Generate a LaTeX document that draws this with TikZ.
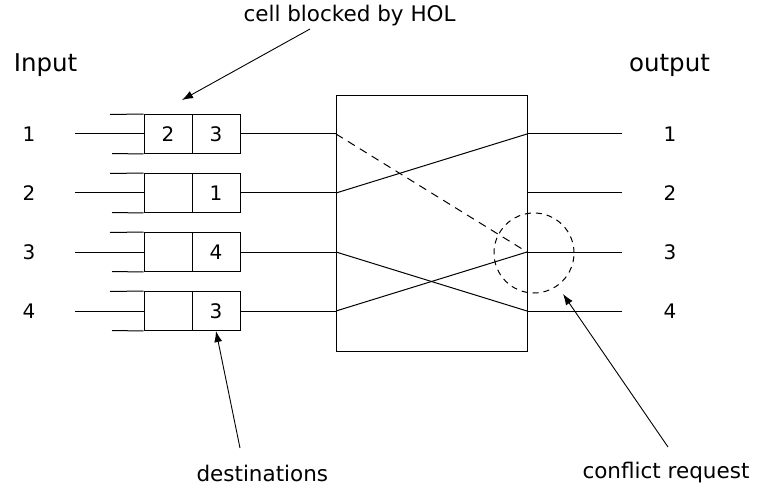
\documentclass[tikz,border=0pt]{standalone}
\usepackage{fontspec}
\setmainfont{DejaVu Sans}
\usetikzlibrary{arrows.meta}
\begin{document}
\begin{tikzpicture}[x=1pt,y=-1pt,line width=1pt,
  cell/.style={draw,minimum width=48pt,minimum height=39pt,inner sep=0pt,font=\fontsize{20}{24}\selectfont},
  num/.style={inner sep=0pt,font=\fontsize{20}{24}\selectfont},
  lbl/.style={inner sep=0pt,font=\fontsize{21.5}{25}\selectfont},
  big/.style={inner sep=0pt,font=\fontsize{24.5}{28}\selectfont},
  arr/.style={line width=0.9pt,-{Latex[length=11pt,width=8pt]}},
  dsh/.style={dash pattern=on 8pt off 6pt}]
\useasboundingbox (0,0) rectangle (759,486);
% switch fabric
\node[draw,anchor=north west,minimum width=191pt,minimum height=256pt,inner sep=0pt] (sw) at (336,95) {};
% titles
\node[big,anchor=base] (tin) at (45.5,72) {Input};
\node[big,anchor=base] (tout) at (669.5,72) {output};
% queues
\foreach \i/\y/\a/\b in {1/134/2/3,2/193//1,3/252//4,4/311//3}{
  \node[cell] (c\i a) at (168,\y) {\a};
  \node[cell] (c\i b) at (216,\y) {\b};
  \coordinate (qt\i) at (110,\y-19.5);
  \coordinate (qb\i) at (112,\y+19.5);
  \draw (qt\i) -- (c\i a.north west);
  \draw (qb\i) -- (c\i a.south west);
  \coordinate (il\i) at (75,\y);
  \draw (il\i) -- (c\i a.west);
  \node[num] (n\i) at (29,\y) {\i};
  \coordinate (in\i) at (336,\y);
  \coordinate (out\i) at (527,\y);
  \draw (c\i b.east) -- (in\i);
  \coordinate (ol\i) at (622,\y);
  \draw (out\i) -- (ol\i);
  \node[num] (m\i) at (670,\y) {\i};
}
% internal connections
\draw[dsh] (in1) -- (out3);
\draw (in2) -- (out1);
\draw (in3) -- (out4);
\draw (in4) -- (out3);
% conflict circle
\node[draw,circle,minimum size=80pt,inner sep=0pt,dash pattern=on 6pt off 5pt] (conf) at (534,253) {};
% labels and arrows
\node[lbl,anchor=base west] (hol) at (243,22) {cell blocked by HOL};
\node[lbl,anchor=base west] (dst) at (196,481) {destinations};
\node[lbl,anchor=base west] (cfl) at (582,478) {conflict request};
\coordinate (holstart) at (310,29);
\coordinate (holtip) at (182,100);
\draw[arr] (holstart) -- (holtip);
\coordinate (dststart) at (240,448);
\draw[arr] (dststart) -- (c4b.south);
\coordinate (cflstart) at (668,447);
\coordinate (cfltip) at (563,294);
\draw[arr] (cflstart) -- (cfltip);
\end{tikzpicture}
\end{document}
